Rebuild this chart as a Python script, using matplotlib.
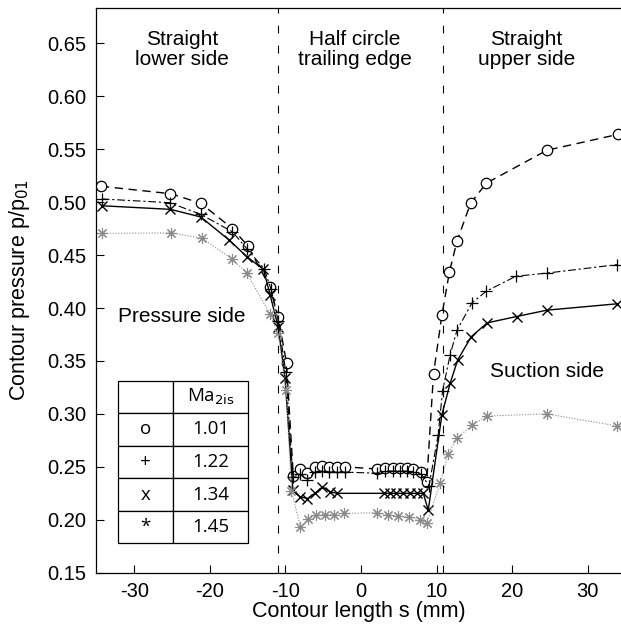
import matplotlib
matplotlib.use("Agg")
import matplotlib.pyplot as plt

plt.rcParams["font.family"] = ["Liberation Sans", "DejaVu Sans"]
plt.rcParams["axes.unicode_minus"] = False

# contour length s (mm) and pressure ratio p/p01 for each exit Mach number
s_101 = [-34.4, -25.2, -21.2, -17.0, -15.0, -12.05, -10.95, -9.85, -8.95, -8.1, -7.1,
         -6.1, -5.2, -4.2, -3.2, -2.1, 2.1, 3.2, 4.3, 5.2, 6.1, 6.9, 8.0, 8.7,
         9.6, 10.7, 11.7, 12.7, 14.5, 16.6, 24.6, 34.0]
p_101 = [0.515, 0.508, 0.499, 0.475, 0.459, 0.420, 0.392, 0.348, 0.241, 0.248, 0.244,
         0.250, 0.251, 0.250, 0.250, 0.250, 0.248, 0.249, 0.249, 0.249, 0.249, 0.248, 0.245, 0.236,
         0.338, 0.393, 0.434, 0.463, 0.499, 0.518, 0.549, 0.564]

s_122 = [-34.3, -25.3, -21.2, -17.0, -15.1, -12.8, -11.9, -10.95, -9.95, -9.0, -8.1, -7.1,
         -6.1, -5.2, -4.2, -3.2, -2.1, 2.1, 3.2, 4.3, 5.2, 6.1, 6.9, 8.0, 9.0,
         10.2, 10.8, 11.8, 12.7, 14.7, 16.6, 20.5, 24.6, 33.9]
p_122 = [0.503, 0.4995, 0.4885, 0.472, 0.456, 0.437, 0.418, 0.388, 0.340, 0.240, 0.243, 0.238,
         0.245, 0.246, 0.245, 0.245, 0.245, 0.244, 0.246, 0.246, 0.246, 0.246, 0.245, 0.243, 0.232,
         0.280, 0.322, 0.356, 0.379, 0.405, 0.416, 0.430, 0.433, 0.441]

s_134 = [-34.3, -25.2, -21.2, -17.4, -15.1, -12.9, -12.0, -10.95, -10.05, -9.0, -8.1, -7.1,
         -6.1, -5.1, -4.1, -3.2, 3.0, 3.8, 4.7, 5.6, 6.5, 7.4, 8.25, 8.9,
         10.7, 11.8, 12.8, 14.6, 16.7, 20.6, 24.6, 33.9]
p_134 = [0.4966, 0.4932, 0.486, 0.464, 0.4485, 0.4365, 0.412, 0.382, 0.334, 0.228, 0.222, 0.220,
         0.225, 0.231, 0.2265, 0.225, 0.225, 0.225, 0.225, 0.225, 0.225, 0.225, 0.225, 0.209,
         0.299, 0.329, 0.351, 0.373, 0.386, 0.392, 0.398, 0.404]

s_145 = [-34.3, -25.1, -21.0, -17.0, -15.1, -12.0, -10.95, -9.9, -9.2, -8.0, -7.0, -5.9,
         -4.8, -3.6, -2.2, 2.1, 3.6, 4.9, 6.4, 7.8, 8.7, 10.5, 11.5, 12.7,
         14.7, 16.7, 24.6, 33.9]
p_145 = [0.4705, 0.471, 0.4658, 0.446, 0.433, 0.394, 0.376, 0.3226, 0.227, 0.193, 0.201, 0.2045,
         0.205, 0.205, 0.206, 0.2067, 0.2045, 0.2035, 0.203, 0.200, 0.197, 0.235, 0.262, 0.277,
         0.2895, 0.298, 0.300, 0.2886]

section_edges = [-11.0, 10.8]
table_symbols = ["o", "+", "x", "*"]
table_mach = ["1.01", "1.22", "1.34", "1.45"]

fig = plt.figure(figsize=(6.21, 6.28), dpi=100)
ax = fig.add_axes([0.154, 0.088, 0.846, 0.9])

ax.plot(s_101, p_101, color="black", lw=1.0, ls=(0, (6, 4)),
        marker="o", ms=7.5, mfc="white", mec="black", mew=0.9)
ax.plot(s_122, p_122, color="black", lw=0.8, ls=(0, (7, 2.5, 2, 2.5)),
        marker="+", ms=8, mew=0.9)
ax.plot(s_134, p_134, color="black", lw=1.0, ls="-",
        marker="x", ms=7.5, mew=1.0)
ax.plot(s_145, p_145, color="#8a8a8a", lw=0.8, ls=(0, (1, 1.5)),
        marker=(8, 2, 0), ms=8, mew=0.8, mec="#8a8a8a")

for xe in section_edges:
    ax.axvline(xe, color="black", lw=0.8, ls=(0, (7, 11)))

ax.set_xlim(-35.1, 34.4)
ax.set_ylim(0.15, 0.6838)
ax.set_xticks(range(-30, 31, 10))
ax.set_yticks([0.15 + 0.05 * i for i in range(11)])
ax.set_yticklabels([f"{0.15 + 0.05 * i:.2f}" for i in range(11)])
ax.tick_params(direction="in", length=6, width=0.8, labelsize=14.5, pad=7)
ax.spines["right"].set_visible(False)
for sp in ["left", "bottom", "top"]:
    ax.spines[sp].set_linewidth(0.9)

ax.set_xlabel("Contour length s (mm)", fontsize=15.5)
ax.set_ylabel("Contour pressure p/p$_{01}$", fontsize=15.5)
ax.xaxis.set_label_coords(0.5, -0.05)
ax.yaxis.set_label_coords(-0.121, 0.5)

ax.text(-23.7, 0.644, "Straight\nlower side", ha="center", va="center", fontsize=15, linespacing=1.1)
ax.text(-0.8, 0.644, "Half circle\ntrailing edge", ha="center", va="center", fontsize=15, linespacing=1.1)
ax.text(21.9, 0.644, "Straight\nupper side", ha="center", va="center", fontsize=15, linespacing=1.1)
ax.text(-23.7, 0.392, "Pressure side", ha="center", va="center", fontsize=15)
ax.text(24.6, 0.340, "Suction side", ha="center", va="center", fontsize=15)

cells = [["", "Ma$_{\\mathrm{2is}}$"]] + [[sym, m] for sym, m in zip(table_symbols, table_mach)]
tab = ax.table(cellText=cells, cellLoc="center", colWidths=[0.418, 0.582],
               bbox=[0.043, 0.052, 0.2475, 0.288])
tab.auto_set_font_size(False)
for (r, c), cell in tab.get_celld().items():
    cell.set_linewidth(0.9)
    cell.set_edgecolor("black")
    cell.get_text().set_fontsize(13.5)
    cell.get_text().set_fontfamily(["Open Sans", "DejaVu Sans"])

fig.savefig("out.png", dpi=100)
